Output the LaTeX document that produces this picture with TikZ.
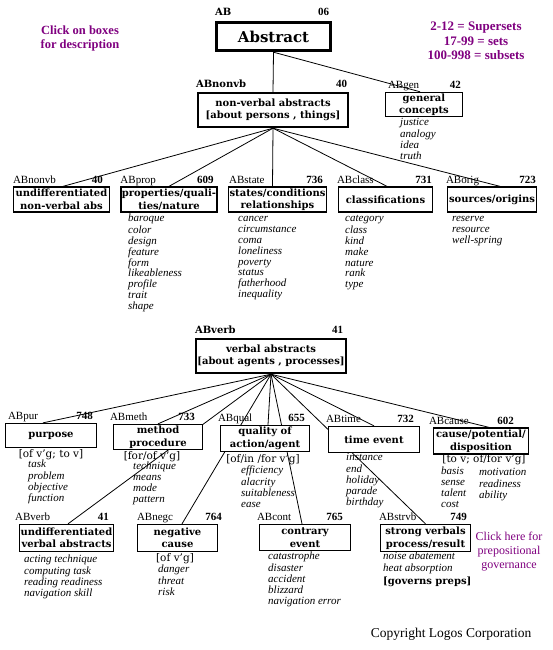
\documentclass[tikz,border=0pt]{standalone}
\usepackage{fontspec}
\setmainfont{DejaVu Serif}
\newfontfamily\libserif{Liberation Serif}
\usetikzlibrary{backgrounds}
\definecolor{logopurple}{HTML}{800080}
\tikzset{
  box/.style={draw, fill=white, line width=1.3pt, inner sep=1pt, align=center, font=\bfseries\fontsize{10}{12.5}\selectfont},
  thickbox/.style={box, line width=2.4pt},
  conn/.style={line width=0.8pt},
  lbl/.style={anchor=base west, inner sep=0pt, font=\libserif\fontsize{11}{12}\selectfont},
  lblb/.style={anchor=base west, inner sep=0pt, font=\bfseries\fontsize{10}{12}\selectfont},
  num/.style={anchor=base east, inner sep=0pt, font=\libserif\bfseries\fontsize{11}{12}\selectfont},
  lst/.style={anchor=north west, inner sep=0pt, align=left, font=\libserif\itshape\fontsize{11}{10.9}\selectfont},
  brk/.style={inner sep=0pt, font=\fontsize{10.5}{12}\selectfont},
  note/.style={text=logopurple, align=center, inner sep=0pt, font=\libserif\bfseries\fontsize{12.5}{14}\selectfont},
}
\begin{document}
\begin{tikzpicture}[x=1pt,y=-1pt]
\useasboundingbox (0,0) rectangle (552,650);

% ---------- top ----------
\node[note] (click1) at (80,38) {Click on boxes\\for description};
\node[note, font=\libserif\bfseries\fontsize{13}{14.5}\selectfont] (legend) at (476,41) {2-12 = Supersets\\17-99 = sets\\100-998 = subsets};

\node[box, line width=3.4pt, minimum width=114pt, minimum height=28pt, font=\bfseries\fontsize{15}{17}\selectfont] (abs) at (273.5,36.5) {Abstract};
\node[lblb] (absL) at ([yshift=5pt]abs.north west) {AB};
\node[num] (absN) at ([xshift=-3pt,yshift=5pt]abs.north east) {06};

\node[thickbox, minimum width=150pt, minimum height=34pt] (nonvb) at (273,110) {non-verbal abstracts\\{}[about persons , things]};
\node[lblb] (nonvbL) at ([xshift=-1pt,yshift=4.5pt]nonvb.north west) {ABnonvb};
\node[num] (nonvbN) at ([xshift=-2pt,yshift=4.5pt]nonvb.north east) {40};

\node[box, minimum width=77pt, minimum height=22pt] (gen) at (424,104.5) {general\\concepts};
\node[lbl] (genL) at ([xshift=3pt,yshift=3pt]gen.north west) {ABgen};
\node[num] (genN) at ([xshift=-2pt,yshift=3pt]gen.north east) {42};
\node[lst] (genList) at (400,117.6) {\strut justice\\analogy\\idea\\truth};

% ---------- non-verbal row ----------
\node[box, minimum width=96pt, minimum height=25pt] (undn) at (61.5,199.5) {undifferentiated\\non-verbal abs};
\node[lbl] (undnL) at ([yshift=3pt]undn.north west) {ABnonvb};
\node[num] (undnN) at ([xshift=-7pt,yshift=3pt]undn.north east) {40};

\node[box, minimum width=93pt, minimum height=25pt] (prop) at (169,199.5) {properties/quali-\\ties/nature};
\node[lbl] (propL) at ([yshift=3pt]prop.north west) {ABprop};
\node[num] (propN) at ([xshift=-4pt,yshift=3pt]prop.north east) {609};
\node[lst] (propList) at (128,213.6) {\strut baroque\\color\\design\\feature\\form\\likeableness\\profile\\trait\\shape};

\node[box, minimum width=96pt, minimum height=25pt] (state) at (277.5,199.5) {states/conditions\\relationships};
\node[lbl] (stateL) at ([xshift=1pt,yshift=3pt]state.north west) {ABstate};
\node[num] (stateN) at ([xshift=-4pt,yshift=3pt]state.north east) {736};
\node[lst] (stateList) at (238,213.6) {\strut cancer\\circumstance\\coma\\loneliness\\poverty\\status\\fatherhood\\inequality};

\node[box, minimum width=94pt, minimum height=25pt] (class) at (385.5,199.5) {classifications};
\node[lbl] (classL) at ([xshift=-1pt,yshift=3pt]class.north west) {ABclass};
\node[num] (classN) at ([xshift=-1pt,yshift=3pt]class.north east) {731};
\node[lst] (classList) at (345,213.6) {\strut category\\class\\kind\\make\\nature\\rank\\type};

\node[box, minimum width=89pt, minimum height=25pt] (orig) at (492,199.5) {sources/origins};
\node[lbl] (origL) at ([xshift=-1pt,yshift=3pt]orig.north west) {ABorig};
\node[num] (origN) at ([xshift=-1pt,yshift=3pt]orig.north east) {723};
\node[lst] (origList) at (452,213.6) {\strut reserve\\resource\\well-spring};

% ---------- verbal ----------
\node[thickbox, minimum width=150pt, minimum height=34pt] (verb) at (271,356) {verbal abstracts\\{}[about agents , processes]};
\node[lblb] (verbL) at ([yshift=4.5pt]verb.north west) {ABverb};
\node[num] (verbN) at ([xshift=-4pt,yshift=4.5pt]verb.north east) {41};

\node[box, minimum width=91pt, minimum height=24pt] (pur) at (51,435.5) {purpose};
\node[lbl] (purL) at ([xshift=3pt,yshift=3pt]pur.north west) {ABpur};
\node[num] (purN) at ([xshift=-4pt,yshift=3pt]pur.north east) {748};
\node[brk] (purB) at (51,455) {[of v'g; to v]};
\node[lst] (purList) at (28,459.6) {\strut task\\problem\\objective\\function};

\node[box, minimum width=89pt, minimum height=25pt] (meth) at (158,437) {method\\procedure};
\node[lbl] (methL) at ([xshift=-3pt,yshift=3pt]meth.north west) {ABmeth};
\node[num] (methN) at ([xshift=-8pt,yshift=3pt]meth.north east) {733};
\node[brk] (methB) at (152,457) {[for/of v'g]};
\node[lst] (methList) at (133,461.6) {\strut technique\\means\\mode\\pattern};

\node[box, minimum width=89pt, minimum height=26pt] (qual) at (265,438.5) {quality of\\action/agent};
\node[lbl] (qualL) at ([xshift=-2pt,yshift=3pt]qual.north west) {ABqual};
\node[num] (qualN) at ([xshift=-5pt,yshift=3pt]qual.north east) {655};
\node[brk] (qualB) at (263,460) {[of/in /for v'g]};
\node[lst] (qualList) at (241,465.6) {\strut efficiency\\alacrity\\suitableness\\ease};

\node[box, minimum width=91pt, minimum height=26pt] (time) at (374,439.5) {time event};
\node[lbl] (timeL) at ([xshift=-2pt,yshift=3pt]time.north west) {ABtime};
\node[num] (timeN) at ([xshift=-6pt,yshift=3pt]time.north east) {732};
\node[lst] (timeList) at (346,452.6) {\strut instance\\end\\holiday\\parade\\birthday};

\node[box, minimum width=95pt, minimum height=26pt] (cause) at (481,441) {cause/potential/\\disposition};
\node[lbl] (causeL) at ([xshift=-4pt,yshift=3pt]cause.north west) {ABcause};
\node[num] (causeN) at ([xshift=-15pt,yshift=3pt]cause.north east) {602};
\node[brk] (causeB) at (484,460) {[to v; of/for v'g]};
\node[lst] (causeListA) at (441,466.6) {\strut basis\\sense\\talent\\cost};
\node[lst] (causeListB) at (479,467.6) {\strut motivation\\readiness\\ability};

% ---------- bottom row ----------
\node[box, minimum width=90pt, minimum height=27pt] (undv) at (66.5,538) {undifferentiated\\verbal abstracts};
\node[lbl] (undvL) at ([xshift=-4pt,yshift=3pt]undv.north west) {ABverb};
\node[num] (undvN) at ([xshift=-5pt,yshift=3pt]undv.north east) {41};
\node[lst] (undvList) at (24,554.6) {\strut acting technique\\computing task\\reading readiness\\navigation skill};

\node[box, minimum width=80pt, minimum height=27pt] (negc) at (177.5,538) {negative\\cause};
\node[lbl] (negcL) at ([yshift=3pt]negc.north west) {ABnegc};
\node[num] (negcN) at ([xshift=4pt,yshift=3pt]negc.north east) {764};
\node[brk] (negcB) at (175,559) {[of v'g]};
\node[lst] (negcList) at (158,564.6) {\strut danger\\threat\\risk};

\node[box, minimum width=91pt, minimum height=26pt] (cont) at (305,537.5) {contrary\\event};
\node[lbl] (contL) at ([xshift=-2pt,yshift=3pt]cont.north west) {ABcont};
\node[num] (contN) at ([xshift=-8pt,yshift=3pt]cont.north east) {765};
\node[lst] (contList) at (268,551.6) {\strut catastrophe\\disaster\\accident\\blizzard\\navigation error};

\node[box, minimum width=90pt, minimum height=27pt] (strvb) at (425.5,538) {strong verbals\\process/result};
\node[lbl] (strvbL) at ([xshift=-1pt,yshift=3pt]strvb.north west) {ABstrvb};
\node[num] (strvbN) at ([xshift=-4pt,yshift=3pt]strvb.north east) {749};
\node[lst] (strvbList) at (383,551.6) {\strut noise abatement\\heat absorption};
\node[brk, anchor=west, font=\bfseries\fontsize{10}{12}\selectfont] (strvbB) at (383,582) {[governs preps]};

\node[note, font=\libserif\fontsize{12}{14}\selectfont] (click2) at (509,552) {Click here for\\prepositional\\governance};
\node[inner sep=0pt, font=\libserif\fontsize{13.5}{15}\selectfont] (copy) at (451,634) {Copyright Logos Corporation};

% ---------- connectors ----------
\begin{scope}[on background layer]
\fill[white] (0,0) rectangle (552,650);
\draw[conn] (abs.south) -- (nonvb.north);
\draw[conn] (abs.south) -- ([xshift=-4pt]gen.north);
\draw[conn] (nonvb.south) -- ([xshift=1.5pt]undn.north);
\draw[conn] (nonvb.south) -- (prop.north);
\draw[conn] (nonvb.south) -- ([xshift=-5pt]state.north);
\draw[conn] (nonvb.south) -- ([xshift=1.5pt]class.north);
\draw[conn] (nonvb.south) -- ([xshift=8pt]orig.north);
\draw[conn] (verb.south) -- ([xshift=-8pt]pur.north);
\draw[conn] (verb.south) -- (meth.north);
\draw[conn] (verb.south) -- ([xshift=1.5pt]undv.north);
\draw[conn] (verb.south) -- ([xshift=3pt]qual.north);
\draw[conn] (verb.south) -- ([xshift=4.5pt]negc.north);
\draw[conn] (verb.south) -- ([xshift=-3pt]cont.north);
\draw[conn] (verb.south) -- (time.north);
\draw[conn] (verb.south) -- (strvb.north);
\draw[conn] (verb.south) -- ([xshift=8pt]cause.north);
\end{scope}
\end{tikzpicture}
\end{document}
